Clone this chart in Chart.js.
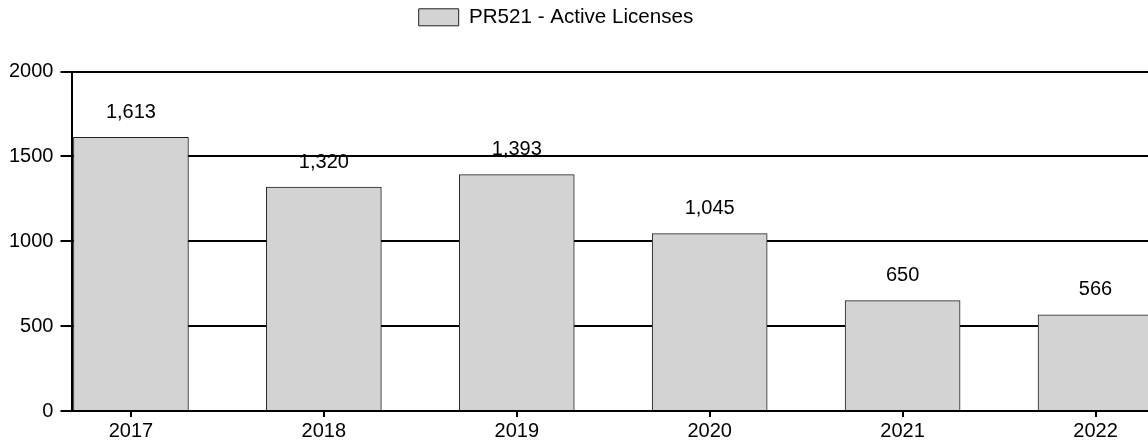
<!DOCTYPE html>
<html>
<head>
<meta charset="utf-8">
<script src="https://cdn.jsdelivr.net/npm/chart.js@4.4.0/dist/chart.umd.min.js"></script>
<style>
  html, body { margin: 0; padding: 0; background: #fff; overflow: hidden; }
  canvas { display: block; }
</style>
</head>
<body>
<canvas id="licChart" width="1148" height="445"></canvas>
<script>
/* =========================================================
   DATA
========================================================= */
const years = [2017, 2018, 2019, 2020, 2021, 2022];
const activeLicenses = [1613, 1320, 1393, 1045, 650, 566];
const yTicks = [0, 500, 1000, 1500, 2000];
const seriesLabel = "PR521 - Active Licenses";

const FONT = "'Liberation Sans', Arial, sans-serif";

/* =========================================================
   PLUGINS
========================================================= */
// value labels above each bar
const valueLabels = {
  id: "valueLabels",
  afterDatasetsDraw(chart) {
    const { ctx } = chart;
    const meta = chart.getDatasetMeta(0);
    ctx.save();
    ctx.font = `20px ${FONT}`;
    ctx.fillStyle = "#000";
    ctx.textAlign = "center";
    ctx.textBaseline = "middle";
    meta.data.forEach((bar, i) => {
      ctx.fillText(activeLicenses[i].toLocaleString("en-US"), bar.x, bar.y - 25);
    });
    ctx.restore();
  }
};

// extra room between legend and plot, legend nudged left
const legendGap = {
  id: "legendGap",
  beforeLayout(chart) {
    const legend = chart.legend;
    if (!legend || legend._gapPatched) return;
    const fit = legend.fit.bind(legend);
    legend.fit = function () {
      fit();
      this.height += 34;
    };
    legend._gapPatched = true;
  },
  afterLayout(chart) {
    if (chart.legend) chart.legend.right -= 38;
  }
};

/* =========================================================
   CHART
========================================================= */
new Chart(document.getElementById("licChart"), {
  type: "bar",
  data: {
    datasets: [{
      label: seriesLabel,
      data: years.map((y, i) => ({ x: y, y: activeLicenses[i] })),
      backgroundColor: "#d3d3d3",
      borderColor: "#222",
      borderWidth: 1,
      barThickness: 115
    }]
  },
  options: {
    responsive: false,
    animation: false,
    layout: { padding: { left: 2, right: 0, top: 0, bottom: 0 } },
    plugins: {
      legend: {
        display: true,
        position: "top",
        labels: {
          color: "#000",
          font: { family: FONT, size: 20.6 },
          boxWidth: 40,
          boxHeight: 17,
          padding: 7,
          generateLabels: () => [{
            text: seriesLabel,
            fillStyle: "#d3d3d3",
            strokeStyle: "#222",
            lineWidth: 1,
            datasetIndex: 0
          }]
        }
      },
      tooltip: { enabled: false }
    },
    scales: {
      x: {
        type: "linear",
        min: 2016.697,
        max: 2022.272,
        offset: false,
        border: { color: "#000", width: 2 },
        grid: { display: true, offset: false, drawOnChartArea: false, color: "#000", lineWidth: 2, tickLength: 6 },
        ticks: {
          stepSize: 1,
          includeBounds: false,
          padding: 2,
          color: "#000",
          font: { family: FONT, size: 20 },
          callback: v => Number.isInteger(v) ? String(v) : ""
        }
      },
      y: {
        min: yTicks[0],
        max: yTicks[yTicks.length - 1],
        border: { color: "#000", width: 2 },
        grid: { color: "#000", lineWidth: 2, tickLength: 12 },
        afterBuildTicks: axis => { axis.ticks = yTicks.map(v => ({ value: v })); },
        ticks: {
          padding: 7,
          color: "#000",
          font: { family: FONT, size: 20 },
          callback: v => String(v)
        }
      }
    }
  },
  plugins: [legendGap, valueLabels]
});
</script>
</body>
</html>
